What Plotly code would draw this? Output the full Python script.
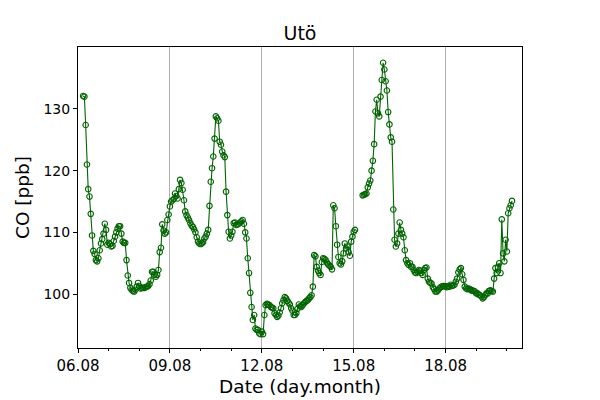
import pandas as pd
import plotly.graph_objects as go

# Hourly CO [ppb] at Utö, starting 06.08 04:00 (None = missing data)
day_06 = [132.1, 132.0, 127.4, 121.0, 117.0, 115.8, 113.0, 109.5, 107.0, 106.5,
          105.5, 105.3, 105.8, 107.1, 108.2, 108.9, 109.8, 111.4, 110.4, 108.0]
day_07 = [108.3, 108.1, 107.7, 107.8, 108.6, 109.3, 110.0, 110.6, 111.0, 111.0, 109.8, 108.5,
          108.3, 108.3, 105.5, 103.0, 101.8, 101.0, 100.7, 100.5, 100.4, 100.7, 101.2, 101.8]
day_08 = [101.3, 100.9, 101.0, 101.0, 101.0, 101.1, 101.2, 101.3, 101.6, 102.2, 103.6, 103.6,
          103.1, 102.8, 103.1, 103.9, 106.8, 107.5, 111.3, 110.3, 109.8, 110.0, 112.0, 112.9]
day_09 = [114.2, 115.0, 115.2, 115.4, 116.3, 115.9, 115.5, 117.0, 118.5, 118.0, 116.9, 115.2,
          113.4, 112.8, 112.4, 112.0, 111.5, 111.1, 110.9, 110.5, 110.0, 109.2, 108.5, 108.2]
day_10 = [108.1, 108.2, 108.4, 109.0, 109.3, 109.8, 110.4, 114.3, 118.2, 120.4, 122.3, 125.2,
          128.8, 128.5, 128.1, 124.7, 124.2, 123.1, 122.5, 122.2, 116.6, 112.8, 110.1, 109.0]
day_11 = [109.5, 110.1, 111.5, 111.6, 111.2, 111.3, 111.4, 111.6, 111.8, 112.0, 111.4, 110.0,
          109.0, 105.8, 103.4, 100.2, 97.9, 95.8, 96.6, 94.4, 94.2, 94.2, 93.6, 93.5]
day_12 = [93.9, 93.5, 96.6, 98.2, 98.4, 98.3, 98.2, 97.9, 97.8, 97.7, 96.9, 96.6,
          96.3, 96.5, 97.0, 97.7, 98.5, 99.0, 99.5, 99.3, 98.9, 98.6, 98.3, 97.7]
day_13 = [97.3, 96.6, 96.6, 96.9, 97.6, 98.3, 98.0, 97.9, 98.2, 98.5, 98.7, 98.9,
          99.0, 99.3, 99.5, 99.8, 101.2, 106.3, 106.1, 104.4, 103.8, 103.4, 103.1, 105.2]
day_14 = [105.8, 105.7, 105.5, 105.1, 104.8, 104.6, 104.4, 104.0, 114.4, 113.9, 111.0, 108.0,
          106.0, 105.0, 104.8, 105.3, 106.6, 108.2, 107.4, 107.7, 106.8, 106.2, 108.5, 109.3]
day_15 = [110.1, 110.4, None, None, None, None, None, 116.0, 116.1, 116.2, 116.3, 117.3,
          117.9, 118.4, 120.0, 121.6, 124.3, 129.6, 131.5, 129.3, 128.8, 132.0, 134.7, 137.5]
day_16 = [136.4, 134.5, 133.0, 129.5, 127.5, 125.4, 124.7, 113.7, 108.8, 107.7, 108.2, 109.8,
          111.6, 110.4, 109.8, 109.2, 107.1, 105.5, 105.0, 104.7, 105.0, 104.4, 104.4, 103.9]
day_17 = [103.5, 103.4, 103.6, 103.9, 103.8, 103.4, 103.1, 103.9, 104.2, 104.3, 102.5, 102.0,
          101.8, 101.7, 101.1, 100.8, 100.4, 100.4, 100.6, 100.9, 101.1, 101.2, 101.3, 101.3]
day_18 = [101.2, 101.1, 101.3, 101.2, 101.5, 101.3, 101.4, 101.5, 102.0, 102.5, 103.5, 104.0,
          104.2, 103.2, 102.3, 101.2, 100.9, 100.8, 100.9, 100.8, 100.6, 100.6, 100.5, 100.4]
day_19 = [100.1, 100.1, 99.9, 99.8, 99.6, 99.3, 99.5, 99.8, 100.1, 100.1, 100.5, 100.6,
          100.5, 100.4, 102.5, 104.2, 103.4, 104.4, 105.0, 103.4, 112.1, 106.6, 105.3, 108.8]
day_20 = [106.9, 113.1, 113.9, 114.4, 115.1]

start_time = "2023-08-06 04:00"
tick_labels = ["06.08", "09.08", "12.08", "15.08", "18.08"]
tick_dates = ["2023-08-06", "2023-08-09", "2023-08-12", "2023-08-15", "2023-08-18"]

co_values = (day_06 + day_07 + day_08 + day_09 + day_10 + day_11 + day_12 + day_13
             + day_14 + day_15 + day_16 + day_17 + day_18 + day_19 + day_20)
times = pd.date_range(start=start_time, periods=len(co_values), freq="h")

green = "#006400"
fig = go.Figure()
fig.add_trace(go.Scatter(
    x=times, y=co_values, mode="lines+markers",
    line=dict(color=green, width=1.1),
    marker=dict(symbol="circle-open", size=5.5, color=green, line=dict(width=1.1, color=green)),
    connectgaps=False, showlegend=False,
))

# the page body has an 8px default margin, so the figure is 592x392 and shifted by 8px
font = "DejaVu Sans, Liberation Sans, sans-serif"
fig.update_layout(
    width=592, height=392,
    paper_bgcolor="white", plot_bgcolor="white",
    margin=dict(l=70, r=78, t=39, b=52, autoexpand=False),
    font=dict(family=font, color="black", size=14),
    title=dict(text="Utö", x=0.5, xref="paper", xanchor="center",
               y=1 - 25 / 392, yref="container", yanchor="middle",
               font=dict(size=19, family=font, color="black")),
    xaxis=dict(
        type="date", automargin=False,
        range=["2023-08-06 00:00", "2023-08-20 11:50"],
        tickvals=tick_dates, ticktext=tick_labels,
        ticks="outside", ticklen=4, tickwidth=1, tickcolor="black",
        showline=True, linecolor="black", linewidth=1, mirror=True,
        showgrid=True, gridcolor="#b0b0b0", gridwidth=0.8,
        zeroline=False,
        minor=dict(dtick=86400000, tick0="2023-08-06", ticks="outside", ticklen=2,
                   tickcolor="black", showgrid=False),
        tickfont=dict(size=15),
        title=dict(text="Date (day.month)", font=dict(size=18.5), standoff=6),
    ),
    yaxis=dict(
        automargin=False,
        range=[91.25, 140.05],
        tickvals=[100, 110, 120, 130],
        ticks="outside", ticklen=4, tickwidth=1, tickcolor="black",
        showline=True, linecolor="black", linewidth=1, mirror=True,
        showgrid=False, zeroline=False,
        tickfont=dict(size=14),
        title=dict(text="CO [ppb]", font=dict(size=18.5), standoff=8),
    ),
)
fig.write_html("out.html")
